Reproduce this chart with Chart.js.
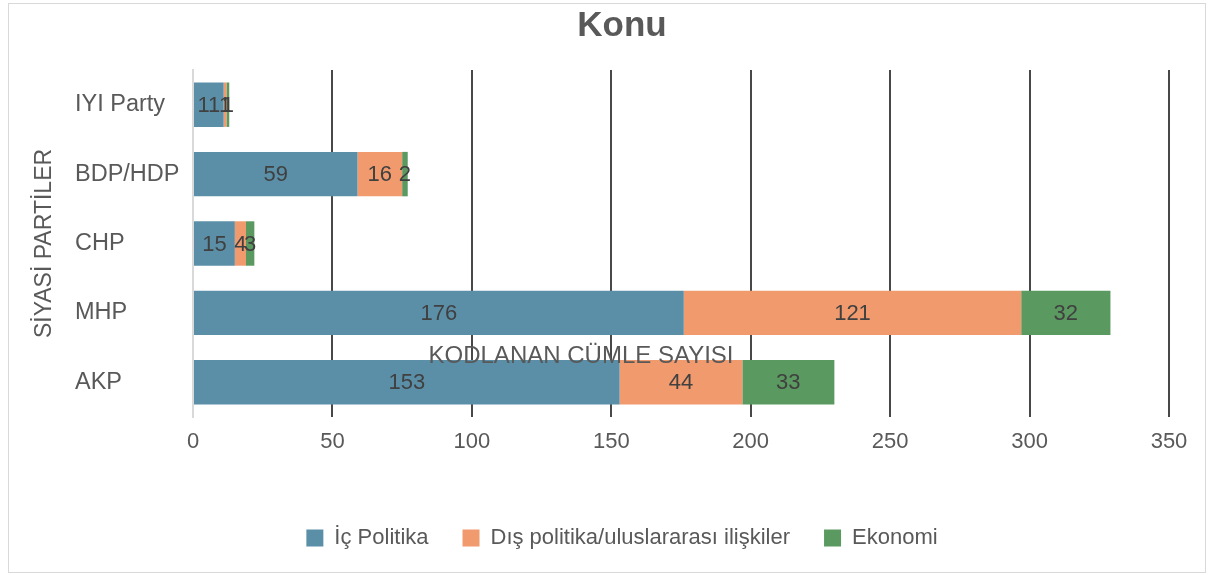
<!DOCTYPE html>
<html>
<head>
<meta charset="utf-8">
<title>Konu</title>
<script src="https://cdn.jsdelivr.net/npm/chart.js@4.4.1/dist/chart.umd.min.js"></script>
<style>
  body { margin: 0; background: #fff; }
  #wrap { position: relative; width: 1210px; height: 575px; }
  #frame { position: absolute; left: 8px; top: 3px; width: 1196px; height: 568px; border: 1px solid #d9d9d9; pointer-events: none; }
</style>
</head>
<body>
<div id="wrap">
  <canvas id="konu-chart"></canvas>
  <div id="frame"></div>
</div>
<script>
// data
var parties = ["IYI Party", "BDP/HDP", "CHP", "MHP", "AKP"];
var icPolitika = [11, 59, 15, 176, 153];
var disPolitika = [1, 16, 4, 121, 44];
var ekonomi = [1, 2, 3, 32, 33];
var seriesNames = ["İç Politika", "Dış politika/uluslararası ilişkiler", "Ekonomi"];
var xMin = 0, xMax = 350, xStep = 50;

var textGray = "#595959";
Chart.defaults.font.family = "'Liberation Sans', Arial, sans-serif";
Chart.defaults.font.size = 22;
Chart.defaults.color = textGray;

//values inside the bars + the two axis titles
var extraText = {
  id: "extraText",
  afterDraw(chart) {
    let ctx = chart.ctx;
    let area = chart.chartArea;
    ctx.save();
    ctx.fillStyle = "#404040";
    ctx.font = "22px 'Liberation Sans', Arial, sans-serif";
    ctx.textAlign = "center";
    ctx.textBaseline = "middle";
    chart.data.datasets.forEach((ds, i) => {
      chart.getDatasetMeta(i).data.forEach((bar, j) => {
        let p = bar.getCenterPoint();
        ctx.fillText(ds.data[j], p.x, p.y + 1);
      });
    });

    // x axis title (sits between MHP and AKP in the original)
    ctx.fillStyle = textGray;
    ctx.font = "24px 'Liberation Sans', Arial, sans-serif";
    ctx.fillText("KODLANAN CÜMLE SAYISI", area.left + 388, area.top + 286);

    // y axis title
    ctx.font = "23px 'Liberation Sans', Arial, sans-serif";
    ctx.translate(45, (area.top + area.bottom) / 2);
    ctx.rotate(-Math.PI / 2);
    ctx.fillText("SİYASİ PARTİLER", 0, 0);
    ctx.restore();
  }
};

new Chart("konu-chart", {
  type: "bar",
  data: {
    labels: parties,
    datasets: [{
      label: seriesNames[0],
      backgroundColor: "#5b8fa8",
      data: icPolitika
    }, {
      label: seriesNames[1],
      backgroundColor: "#f09a6e",
      data: disPolitika
    }, {
      label: seriesNames[2],
      backgroundColor: "#5a9960",
      data: ekonomi
    }]
  },
  options: {
    indexAxis: "y",
    responsive: true,
    maintainAspectRatio: false,
    animation: false,
    categoryPercentage: 0.64,
    barPercentage: 1,
    layout: {
      padding: { left: 75, right: 41, top: 0, bottom: 16 }
    },
    plugins: {
      title: {
        display: true,
        text: "Konu",
        color: textGray,
        font: { size: 35, weight: "bold" },
        padding: { top: 5, bottom: 23 }
      },
      legend: {
        display: true,
        position: "bottom",
        labels: {
          boxWidth: 17,
          boxHeight: 17,
          padding: 34,
          color: textGray,
          font: { size: 22 }
        }
      },
      tooltip: { enabled: false }
    },
    scales: {
      x: {
        stacked: true,
        min: xMin,
        max: xMax,
        z: 1,
        ticks: {
          stepSize: xStep,
          padding: 12,
          color: textGray
        },
        grid: {
          drawTicks: false,
          color: (c) => c.tick && c.tick.value === 0 ? "#d9d9d9" : "rgba(40,40,40,0.85)",
          lineWidth: 2
        },
        border: { display: false },
        afterFit: (scale) => { scale.height = 76; }
      },
      y: {
        stacked: true,
        ticks: {
          crossAlign: "far",
          color: textGray,
          padding: 8,
          font: { size: 23.5 }
        },
        grid: { display: false },
        border: { display: true, color: "#d9d9d9", width: 2 },
        afterFit: (scale) => { scale.width = 118; }
      }
    }
  },
  plugins: [extraText]
});
</script>
</body>
</html>
